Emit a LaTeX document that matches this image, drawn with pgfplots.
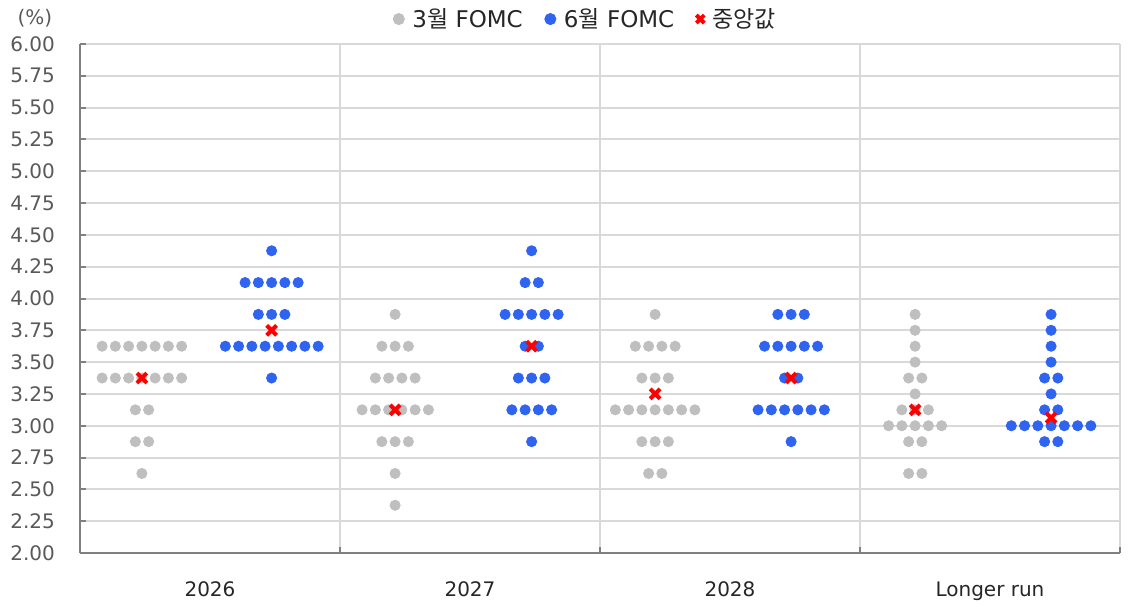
\documentclass[border=0pt]{standalone}
\usepackage{pgfplots}
\pgfplotsset{compat=1.18}
\usepackage{fontspec}
\setmainfont{DejaVu Sans}
\newfontfamily\kr{Noto Sans CJK KR}

\definecolor{marchgray}{RGB}{191,191,191}
\definecolor{juneblue}{RGB}{47,100,240}
\definecolor{gridgray}{RGB}{217,217,217}
\definecolor{axisgray}{RGB}{128,128,128}
\definecolor{textgray}{RGB}{89,89,89}
\definecolor{labelblack}{RGB}{38,38,38}

\begin{document}
\begin{tikzpicture}
  \begin{axis}[
      scale only axis, width=520pt, height=254.5pt,
      xmin=0, xmax=4, ymin=2, ymax=6,
      axis x line*=bottom, axis y line*=left,
      axis line style={-, axisgray, line width=1pt},
      ytick={2,2.25,2.5,2.75,3,3.25,3.5,3.75,4,4.25,4.5,4.75,5,5.25,5.5,5.75,6},
      /pgf/number format/assume math mode=true,
      yticklabel style={/pgf/number format/.cd, fixed, fixed zerofill, precision=2, /tikz/.cd,
        font=\fontsize{10}{12}\selectfont, text=textgray, xshift=-9pt},
      ymajorgrids, grid style={gridgray, line width=1pt},
      tick align=inside, major tick length=3pt,
      ytick style={axisgray, line width=1pt},
      xtick={0.5,1.5,2.5,3.5}, xticklabels={2026,2027,2028,Longer run},
      xtick style={draw=none},
      xticklabel style={font=\fontsize{10}{12}\selectfont, text=labelblack, yshift=-11pt},
      extra x ticks={1,2,3,4}, extra x tick labels={},
      extra x tick style={xmajorgrids=true, xtick style={draw=axisgray, line width=1pt}},
      legend columns=-1,
      legend style={at={(axis description cs:0.487,1.049)}, anchor=center, draw=none,
        fill=none, inner sep=0pt, font=\fontsize{11.5}{13}\selectfont, text=labelblack,
        /tikz/every odd column/.append style={column sep=2pt},
        /tikz/every even column/.append style={column sep=9pt}},
      legend image code/.code={\draw[#1, mark size=2.8pt] plot coordinates {(0cm,0cm)};},
    ]
    % 3월 FOMC
    \addplot[only marks, mark=*, mark size=2.55pt, mark options={fill=marchgray, draw=marchgray}] coordinates {
      (0.085,3.625) (0.136,3.625) (0.187,3.625) (0.238,3.625) (0.289,3.625) (0.340,3.625) (0.391,3.625)
      (0.085,3.375) (0.136,3.375) (0.187,3.375) (0.238,3.375) (0.289,3.375) (0.340,3.375) (0.391,3.375)
      (0.213,3.125) (0.264,3.125)
      (0.213,2.875) (0.264,2.875)
      (0.238,2.625)
      (1.212,3.875)
      (1.161,3.625) (1.212,3.625) (1.263,3.625)
      (1.136,3.375) (1.187,3.375) (1.238,3.375) (1.289,3.375)
      (1.085,3.125) (1.136,3.125) (1.187,3.125) (1.238,3.125) (1.289,3.125) (1.340,3.125)
      (1.161,2.875) (1.212,2.875) (1.263,2.875)
      (1.212,2.625)
      (1.212,2.375)
      (2.212,3.875)
      (2.136,3.625) (2.187,3.625) (2.238,3.625) (2.289,3.625)
      (2.161,3.375) (2.212,3.375) (2.263,3.375)
      (2.059,3.125) (2.110,3.125) (2.161,3.125) (2.212,3.125) (2.263,3.125) (2.314,3.125) (2.365,3.125)
      (2.161,2.875) (2.212,2.875) (2.263,2.875)
      (2.187,2.625) (2.238,2.625)
      (3.212,3.875) (3.212,3.75) (3.212,3.625) (3.212,3.5)
      (3.187,3.375) (3.238,3.375)
      (3.212,3.25)
      (3.161,3.125) (3.212,3.125) (3.263,3.125)
      (3.110,3.0) (3.161,3.0) (3.212,3.0) (3.263,3.0) (3.314,3.0)
      (3.187,2.875) (3.238,2.875)
      (3.187,2.625) (3.238,2.625)
    };
    \addlegendentry{3{\kr 월} FOMC}
    % 6월 FOMC
    \addplot[only marks, mark=*, mark size=2.55pt, mark options={fill=juneblue, draw=juneblue}] coordinates {
      (0.737,4.375)
      (0.635,4.125) (0.686,4.125) (0.737,4.125) (0.788,4.125) (0.839,4.125)
      (0.686,3.875) (0.737,3.875) (0.788,3.875)
      (0.559,3.625) (0.610,3.625) (0.661,3.625) (0.712,3.625) (0.763,3.625) (0.814,3.625) (0.865,3.625) (0.916,3.625)
      (0.737,3.375)
      (1.737,4.375)
      (1.712,4.125) (1.763,4.125)
      (1.635,3.875) (1.686,3.875) (1.737,3.875) (1.788,3.875) (1.839,3.875)
      (1.712,3.625) (1.763,3.625)
      (1.686,3.375) (1.737,3.375) (1.788,3.375)
      (1.661,3.125) (1.712,3.125) (1.763,3.125) (1.814,3.125)
      (1.737,2.875)
      (2.684,3.875) (2.735,3.875) (2.786,3.875)
      (2.633,3.625) (2.684,3.625) (2.735,3.625) (2.786,3.625) (2.837,3.625)
      (2.710,3.375) (2.761,3.375)
      (2.608,3.125) (2.659,3.125) (2.710,3.125) (2.761,3.125) (2.812,3.125) (2.863,3.125)
      (2.735,2.875)
      (3.735,3.875) (3.735,3.75) (3.735,3.625) (3.735,3.5)
      (3.710,3.375) (3.761,3.375)
      (3.735,3.25)
      (3.710,3.125) (3.761,3.125)
      (3.582,3.0) (3.633,3.0) (3.684,3.0) (3.735,3.0) (3.786,3.0) (3.837,3.0) (3.888,3.0)
      (3.710,2.875) (3.761,2.875)
    };
    \addlegendentry{6{\kr 월} FOMC}
    % 중앙값
    \addplot[only marks, mark=x, mark size=3.5pt, mark options={draw=red, line width=2pt}] coordinates {
      (0.238,3.375) (0.737,3.75) (1.212,3.125) (1.737,3.625)
      (2.212,3.25) (2.735,3.375) (3.212,3.125) (3.735,3.0625)
    };
    \addlegendentry{{\kr 중앙값}}
  \end{axis}
  \node[font=\fontsize{10}{12}\selectfont, text=textgray] at ([xshift=-22.5pt, yshift=13pt]current axis.north west) {(\%)};
  \pgfresetboundingbox
  \useasboundingbox (-40pt,-26.5pt) rectangle (526pt,276.5pt);
\end{tikzpicture}
\end{document}
